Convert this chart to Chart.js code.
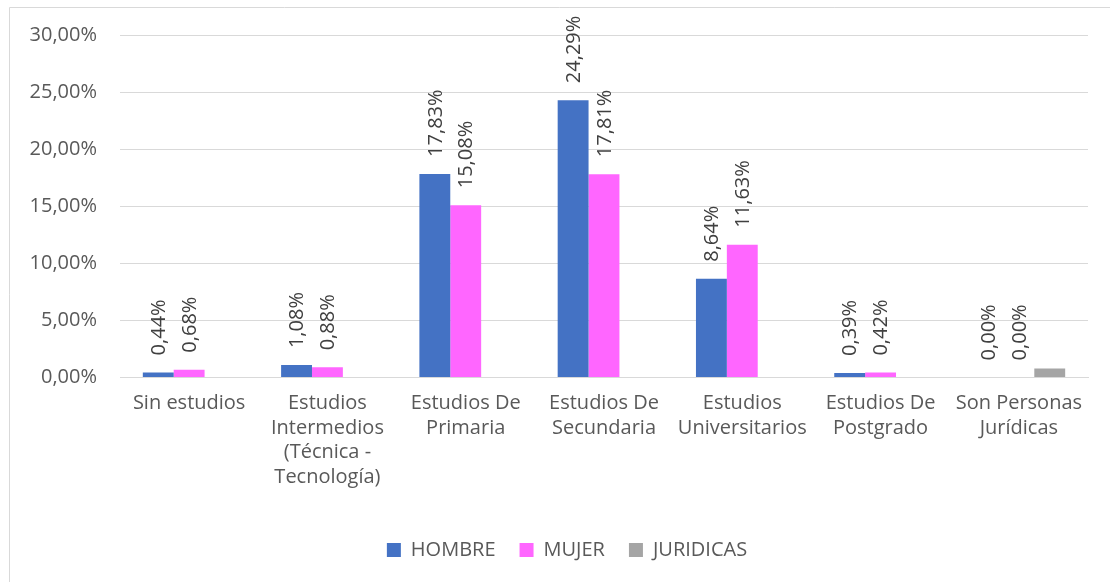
<!DOCTYPE html>
<html>
<head>
<meta charset="utf-8">
<script src="https://cdn.jsdelivr.net/npm/chart.js@4/dist/chart.umd.min.js"></script>
<style>
  html, body { margin: 0; padding: 0; background: #fff; }
  #wrap { position: relative; width: 1110px; height: 582px; }
</style>
</head>
<body>
<div id="wrap"><canvas id="barChart"></canvas></div>
<script>
  // categories and series
  var categorias = [
    "Sin estudios",
    ["Estudios", "Intermedios", "(Técnica -", "Tecnología)"],
    ["Estudios De", "Primaria"],
    ["Estudios De", "Secundaria"],
    ["Estudios", "Universitarios"],
    ["Estudios De", "Postgrado"],
    ["Son Personas", "Jurídicas"]
  ];
  var hombre_data = [0.44, 1.08, 17.83, 24.29, 8.64, 0.39, 0.00];
  var mujer_data = [0.68, 0.88, 15.08, 17.81, 11.63, 0.42, 0.00];
  var juridicas_data = [0, 0, 0, 0, 0, 0, 0.79];

  var fuente = "'Open Sans', sans-serif";
  var gris_texto = '#595959';

  function pct(v) {
    return v.toFixed(2).replace('.', ',') + '%';
  }

  // fondo y borde del grafico
  var marcoPlugin = {
    id: 'marco',
    beforeDraw: function(chart) {
      var ctx = chart.ctx;
      ctx.save();
      ctx.fillStyle = '#fff';
      ctx.fillRect(0, 0, chart.width, chart.height);
      ctx.strokeStyle = '#d9d9d9';
      ctx.lineWidth = 1;
      ctx.beginPath();
      ctx.moveTo(9.5, chart.height);
      ctx.lineTo(9.5, 7.5);
      ctx.lineTo(chart.width, 7.5);
      ctx.stroke();
      ctx.restore();
    }
  };

  // mover la leyenda un poco a la derecha
  var leyendaPlugin = {
    id: 'leyendaShift',
    afterLayout: function(chart) {
      if (!chart.legend) return;
      chart.legend.left += 23;
      chart.legend.right += 23;
    }
  };

  // etiquetas verticales sobre las barras
  var etiquetasPlugin = {
    id: 'etiquetas',
    afterDatasetsDraw: function(chart) {
      var ctx = chart.ctx;
      ctx.save();
      ctx.font = '20px ' + fuente;
      ctx.fillStyle = '#404040';
      ctx.textAlign = 'left';
      ctx.textBaseline = 'middle';
      [0, 1].forEach(function(di) {
        var meta = chart.getDatasetMeta(di);
        meta.data.forEach(function(bar, i) {
          var v = chart.data.datasets[di].data[i];
          ctx.save();
          ctx.translate(bar.x, bar.y - 17);
          ctx.rotate(-Math.PI / 2);
          ctx.fillText(pct(v), 0, 1);
          ctx.restore();
        });
      });
      ctx.restore();
    }
  };

  var ctxB = document.getElementById('barChart').getContext('2d');
  var myBarChart = new Chart(ctxB, {
    type: 'bar',
    data: {
      labels: categorias,
      datasets: [{
          label: 'HOMBRE',
          data: hombre_data,
          backgroundColor: '#4472C4'
        },
        {
          label: 'MUJER',
          data: mujer_data,
          backgroundColor: '#FF66FF'
        },
        {
          label: 'JURIDICAS',
          data: juridicas_data,
          backgroundColor: '#A5A5A5'
        }
      ]
    },
    options: {
      responsive: true,
      maintainAspectRatio: false,
      animation: false,
      layout: {
        padding: { left: 0, right: 22, top: 30, bottom: 12 }
      },
      datasets: {
        bar: { categoryPercentage: 0.67, barPercentage: 1.0 }
      },
      plugins: {
        tooltip: { enabled: false },
        legend: {
          position: 'bottom',
          labels: {
            font: { family: fuente, size: 20 },
            color: gris_texto,
            boxWidth: 14,
            boxHeight: 14,
            padding: 24
          }
        }
      },
      scales: {
        x: {
          grid: { display: false },
          border: { color: '#d9d9d9' },
          afterFit: function(scale) { scale.height = scale.height + 21; },
          ticks: {
            font: { family: fuente, size: 20, lineHeight: 1.22 },
            color: gris_texto,
            maxRotation: 0,
            autoSkip: false,
            padding: 6
          }
        },
        y: {
          min: 0,
          max: 30,
          afterFit: function(scale) { scale.width = 120; },
          border: { display: false },
          grid: { color: '#d9d9d9', drawTicks: false },
          ticks: {
            stepSize: 5,
            font: { family: fuente, size: 20 },
            color: gris_texto,
            padding: 23,
            callback: function(v) { return pct(v); }
          }
        }
      }
    },
    plugins: [marcoPlugin, leyendaPlugin, etiquetasPlugin]
  });
</script>
</body>
</html>
